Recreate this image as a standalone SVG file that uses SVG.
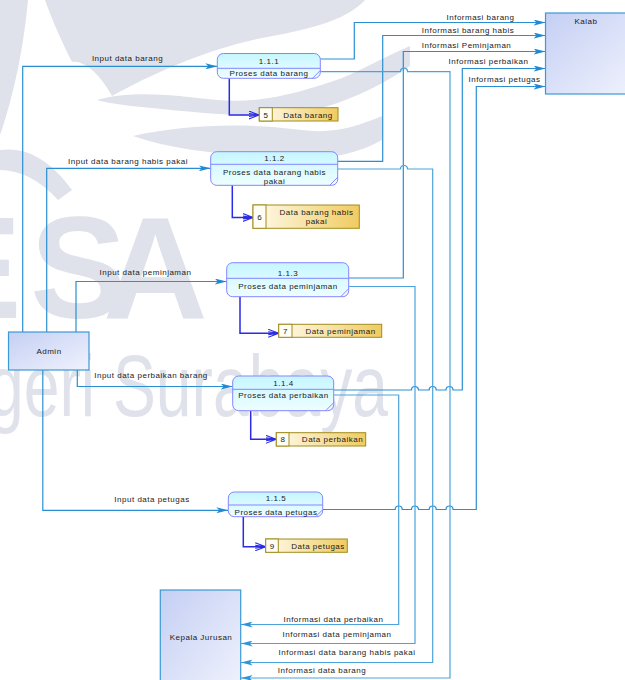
<svg xmlns="http://www.w3.org/2000/svg" width="625" height="680" viewBox="0 0 625 680">
<style>
text{font-family:"Liberation Sans",Arial,sans-serif;font-size:8px;fill:#1a1a1a;letter-spacing:0.5px}
.c{text-anchor:middle}
.flow{fill:none;stroke:#2a8fd2;stroke-width:1.2}
.out{fill:none;stroke:#4aa3dc;stroke-width:1.2}
.st{fill:none;stroke:#2a2ae8;stroke-width:1.5}
.ent{stroke:#3a9ad8;stroke-width:1.2}
.proc{fill:url(#gp);stroke:#8585ff;stroke-width:1}
.pl{fill:none;stroke:#8585ff;stroke-width:1}
.ds{fill:url(#gd);stroke:#a08c1e;stroke-width:1}
.dn{fill:#fffdf4;stroke:#a08c1e;stroke-width:1}
.wm{fill:#dfe2eb}
</style>
<defs>
<linearGradient id="ge" x1="0" y1="0" x2="1" y2="1"><stop offset="0" stop-color="#c4cff3"/><stop offset="1" stop-color="#f0f2fd"/></linearGradient>
<linearGradient id="gp" x1="0" y1="0" x2="0" y2="1"><stop offset="0" stop-color="#c6f6ff"/><stop offset="1" stop-color="#eefeff"/></linearGradient>
<linearGradient id="gd" x1="0" y1="0" x2="1" y2="0"><stop offset="0" stop-color="#fffbec"/><stop offset="1" stop-color="#f0cb60"/></linearGradient>
<marker id="a" viewBox="0 0 12 6" refX="12" refY="3" markerWidth="12" markerHeight="6" markerUnits="userSpaceOnUse" orient="auto"><path d="M0,0 L12,3 L0,6 L3,3 Z" fill="#1f8ad2"/></marker>
<marker id="ao" viewBox="0 0 12 6" refX="12" refY="3" markerWidth="12" markerHeight="6" markerUnits="userSpaceOnUse" orient="auto"><path d="M0,0 L12,3 L0,6 L3,3 Z" fill="#2d95d8"/></marker>
<marker id="v" viewBox="0 0 11 9" refX="10.5" refY="4.5" markerWidth="11" markerHeight="9" markerUnits="userSpaceOnUse" orient="auto"><path d="M0,0.5 L10.5,4.5 L0,8.5 M0,3 L10.5,4.5 M0,6 L10.5,4.5" fill="none" stroke="#2a2ae8" stroke-width="1.1"/></marker>
</defs>
<rect width="625" height="680" fill="#ffffff"/>
<g id="watermark" class="wm">
<path d="M0,0 H28 C24,45 14,95 0,135 Z"/>
<path d="M45,0 H365 C345,22 305,30 262,38 C205,50 152,74 112,96 C100,74 84,60 72,62 C62,42 52,20 45,0 Z"/>
<path d="M97,100 C132,90 172,95 217,100 C262,104 302,92 342,78 C362,70 382,58 410,46 L410,66 C378,88 336,108 292,114 C242,118 192,112 152,108 C130,106 112,104 97,100 Z"/>
<path d="M133,136 C182,125 242,122 302,130 C332,134 356,127 382,116 L382,140 C352,157 312,162 272,158 C222,154 172,150 133,136 Z"/>
<path d="M0,150 C28,146 52,162 72,190 L58,200 C40,180 20,170 0,170 Z"/>
<text x="-75 30 103" y="318" style="font-size:145px;font-weight:bold;fill:#dfe2eb;letter-spacing:0">ESA</text>
<text x="-12" y="416" textLength="400" lengthAdjust="spacingAndGlyphs" style="font-size:88px;fill:#dfe2eb;letter-spacing:0">geri Surabaya</text>
</g>
<g id="connectors">
<path class="flow" d="M22.7,332 V66.3 H217.3" marker-end="url(#a)"/>
<path class="flow" d="M46.7,332 V168.3 H210.7" marker-end="url(#a)"/>
<path class="flow" d="M76,332 V281.5 H226.7" marker-end="url(#a)"/>
<path class="flow" d="M77.3,370 V386.5 H232.7" marker-end="url(#a)"/>
<path class="flow" d="M42.8,370 V510.3 H228.3" marker-end="url(#a)"/>
<path class="flow" d="M320.3,59 H354.3 V22.5 H545.5" marker-end="url(#a)"/>
<path class="flow" d="M337.7,161.3 H382.7 V35.5 H545.5" marker-end="url(#a)"/>
<path class="flow" d="M348.7,278 H403.3 V51.5 H545.5" marker-end="url(#a)"/>
<path class="flow" d="M333.7,390 H411.5 a3.5,3.5 0 0 1 7,0 H429.2 a3.5,3.5 0 0 1 7,0 H446 a3.5,3.5 0 0 1 7,0 H462.3 V68.5 H545.5" marker-end="url(#a)"/>
<path class="flow" d="M322.7,509.5 H395.2 a3.5,3.5 0 0 1 7,0 H411.5 a3.5,3.5 0 0 1 7,0 H429.2 a3.5,3.5 0 0 1 7,0 H446 a3.5,3.5 0 0 1 7,0 H476.3 V86.5 H545.5" marker-end="url(#a)"/>
<path class="out" d="M320.3,71.6 H400.5 a3.5,3.5 0 0 1 7,0 H450 V678 H240.7" marker-end="url(#ao)"/>
<path class="out" d="M337.7,169 H400.5 a3.5,3.5 0 0 1 7,0 H432.7 V662.5 H240.7" marker-end="url(#ao)"/>
<path class="out" d="M348.7,286.5 H415 V643.5 H240.7" marker-end="url(#ao)"/>
<path class="out" d="M333.7,395 H398.7 V624.5 H240.7" marker-end="url(#ao)"/>
<path class="st" d="M229.3,78.3 V115 H259.3" marker-end="url(#v)"/>
<path class="st" d="M232.3,185.3 V217.5 H253" marker-end="url(#v)"/>
<path class="st" d="M240,296.7 V333.3 H278.7" marker-end="url(#v)"/>
<path class="st" d="M250.7,410.7 V439.3 H276.3" marker-end="url(#v)"/>
<path class="st" d="M243.3,516.7 V546.7 H265.7" marker-end="url(#v)"/>
</g>
<g id="labels">
<text class="c" x="480.5" y="19.5">Informasi barang</text>
<text class="c" x="468" y="32.5">Informasi barang habis</text>
<text class="c" x="466.5" y="47.5">Informasi Peminjaman</text>
<text class="c" x="488.5" y="64">Informasi perbaikan</text>
<text class="c" x="504.5" y="82">Informasi petugas</text>
<text class="c" x="127.5" y="61.3">Input data barang</text>
<text class="c" x="128" y="164.3">Input data barang habis pakai</text>
<text class="c" x="145.5" y="274.5">Input data peminjaman</text>
<text class="c" x="151" y="378">Input data perbaikan barang</text>
<text class="c" x="152" y="502">Input data petugas</text>
<text class="c" x="333.5" y="622">Informasi data perbaikan</text>
<text class="c" x="337" y="636.5">Informasi data peminjaman</text>
<text class="c" x="347" y="654.5">Informasi data barang habis pakai</text>
<text class="c" x="322" y="673">Informasi data barang</text>
</g>
<g id="kalab"><rect class="ent" x="545.5" y="13" width="90" height="81" fill="url(#ge)"/><text class="c" x="586" y="23.5">Kalab</text></g>
<g id="admin"><rect class="ent" x="8.5" y="332" width="80.5" height="38" fill="url(#ge)"/><text class="c" x="49" y="354">Admin</text></g>
<g id="kepala"><rect class="ent" x="160.3" y="590" width="80.4" height="100" fill="url(#ge)"/><text class="c" x="201" y="639.7">Kepala Jurusan</text></g>
<g id="p111"><rect class="proc" x="217.3" y="53.5" width="103" height="24.8" rx="6"/><path class="pl" d="M217.3,68.3 H320.3 M312.5,78.3 L320.3,70.5"/><text class="c" x="269" y="63.5">1.1.1</text><text class="c" x="269" y="76.3">Proses data barang</text></g>
<g id="p112"><rect class="proc" x="210.7" y="151.7" width="127" height="33.6" rx="6"/><path class="pl" d="M210.7,164.3 H337.7 M329.7,185.3 L337.7,177.3"/><text class="c" x="274.5" y="160.5">1.1.2</text><text class="c" x="274.5" y="174.7">Proses data barang habis</text><text class="c" x="274.5" y="183.7">pakai</text></g>
<g id="p113"><rect class="proc" x="226.7" y="262.7" width="122" height="34" rx="6"/><path class="pl" d="M226.7,278.3 H348.7 M340.7,296.7 L348.7,288.7"/><text class="c" x="288" y="276.3">1.1.3</text><text class="c" x="288" y="288.7">Proses data peminjaman</text></g>
<g id="p114"><rect class="proc" x="232.7" y="376" width="101" height="34.7" rx="6"/><path class="pl" d="M232.7,389.3 H333.7 M325.7,410.7 L333.7,402.7"/><text class="c" x="283.5" y="385.7">1.1.4</text><text class="c" x="283.5" y="398">Proses data perbaikan</text></g>
<g id="p115"><rect class="proc" x="228.3" y="492" width="94.4" height="24.7" rx="6"/><path class="pl" d="M228.3,505 H322.7 M315.7,516.7 L322.7,509.7"/><text class="c" x="276" y="501.3">1.1.5</text><text class="c" x="276" y="514.7">Proses data petugas</text></g>
<g id="d5"><rect class="ds" x="259.3" y="107.7" width="78.7" height="13.3"/><rect class="dn" x="259.3" y="107.7" width="13" height="13.3"/><text class="c" x="266" y="117.5">5</text><text class="c" x="308" y="117.5">Data barang</text></g>
<g id="d6"><rect class="ds" x="253" y="205" width="106.3" height="23.3"/><rect class="dn" x="253" y="205" width="13" height="23.3"/><text class="c" x="259.8" y="220.3">6</text><text class="c" x="316.5" y="214.7">Data barang habis</text><text class="c" x="316.5" y="224">pakai</text></g>
<g id="d7"><rect class="ds" x="278.7" y="324.3" width="103" height="13"/><rect class="dn" x="278.7" y="324.3" width="13.3" height="13"/><text class="c" x="285.5" y="333.7">7</text><text class="c" x="340.5" y="333.7">Data peminjaman</text></g>
<g id="d8"><rect class="ds" x="276.3" y="432.7" width="89.4" height="13.3"/><rect class="dn" x="276.3" y="432.7" width="12.7" height="13.3"/><text class="c" x="283" y="442.3">8</text><text class="c" x="332.5" y="442.3">Data perbaikan</text></g>
<g id="d9"><rect class="ds" x="265.7" y="539" width="81.6" height="13.3"/><rect class="dn" x="265.7" y="539" width="12.6" height="13.3"/><text class="c" x="272.3" y="548.5">9</text><text class="c" x="318" y="548.5">Data petugas</text></g>
</svg>
